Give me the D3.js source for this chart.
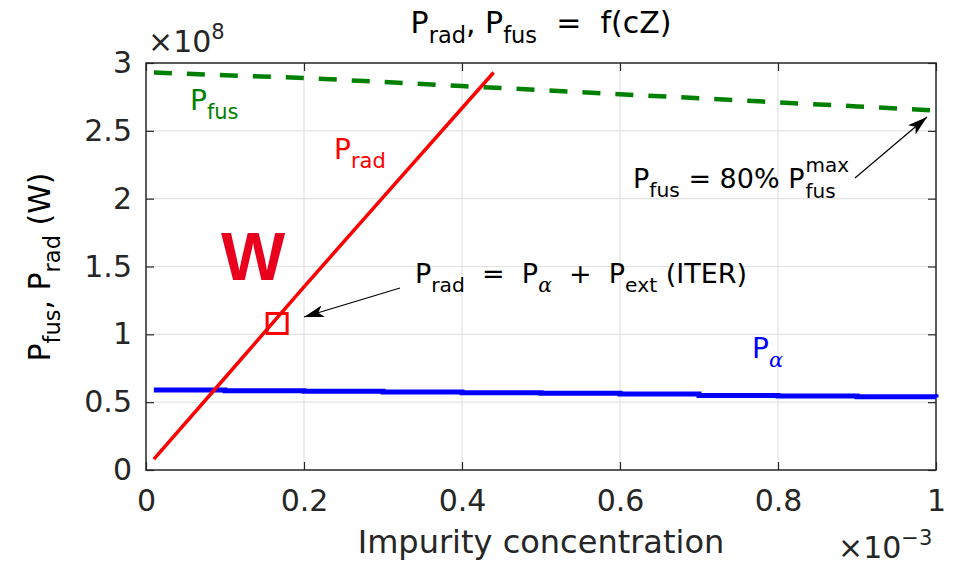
<!DOCTYPE html>
<html lang="en">
<head>
    <meta charset="UTF-8">
    <title>Prad, Pfus = f(cZ)</title>
    <script src="https://d3js.org/d3.v7.min.js"></script>
</head>
<style>
    html,body { margin: 0; padding: 0; background: #fff; }
    text { font-family: "DejaVu Sans", sans-serif; white-space: pre; }
</style>
<body>
    <div id="svg"></div>
</body>
<script>
    // impurity concentration (x1e-3)
    const concRad = [0.01, 0.1, 0.2, 0.3, 0.44];
    const pRad = [0.08, 0.68, 1.35, 2.01, 2.93];          // x1e8 W
    const concFus = [0.01, 0.1, 0.2, 0.3, 0.4, 0.5, 0.6, 0.7, 0.8, 0.9, 1.0];
    const pFus = [2.93, 2.91, 2.89, 2.86, 2.83, 2.80, 2.77, 2.74, 2.71, 2.68, 2.65];
    const pAlpha = [0.59, 0.585, 0.58, 0.575, 0.57, 0.565, 0.56, 0.55, 0.545, 0.54, 0.535];
    const xTicks = [0, 0.2, 0.4, 0.6, 0.8, 1];
    const yTicks = [0, 0.5, 1, 1.5, 2, 2.5, 3];
    const iterPoint = [0.166, 1.08];

    const width = 957, height = 565;
    const svg = d3.select('#svg').append('svg')
        .attr('width', width).attr('height', height);

    const x = d3.scaleLinear().domain([0, 1]).range([146, 936]);
    const y = d3.scaleLinear().domain([0, 3]).range([470, 63]);
    const sp = '\u00a0\u00a0';

    // grid
    svg.append('g').selectAll('line').data(xTicks.slice(1, -1)).enter().append('line')
        .attr('x1', d => x(d)).attr('x2', d => x(d))
        .attr('y1', y(0)).attr('y2', y(3))
        .attr('stroke', '#e3e3e3').attr('stroke-width', 1.2);
    svg.append('g').selectAll('line').data(yTicks.slice(1, -1)).enter().append('line')
        .attr('x1', x(0)).attr('x2', x(1))
        .attr('y1', d => y(d)).attr('y2', d => y(d))
        .attr('stroke', '#e3e3e3').attr('stroke-width', 1.2);

    // axes (ticks inward, MATLAB style)
    const axStyle = g => {
        g.select('.domain').remove();
        g.selectAll('line').attr('stroke', '#262626').attr('stroke-width', 1.2);
        g.selectAll('text').attr('fill', '#262626').attr('font-size', '30px')
            .style('font-family', '"DejaVu Sans", sans-serif');
    };
    svg.append('g').attr('transform', `translate(0,${y(0)})`)
        .call(d3.axisBottom(x).tickValues(xTicks).tickFormat(d3.format('')).tickSizeInner(-8).tickPadding(20))
        .call(axStyle);
    svg.append('g').attr('transform', `translate(0,${y(3)})`)
        .call(d3.axisTop(x).tickValues(xTicks).tickFormat('').tickSizeInner(-8))
        .call(axStyle);
    svg.append('g').attr('transform', `translate(${x(0)},0)`)
        .call(d3.axisLeft(y).tickValues(yTicks).tickFormat(d3.format('')).tickSizeInner(-8).tickPadding(14))
        .call(axStyle);
    svg.append('g').attr('transform', `translate(${x(1)},0)`)
        .call(d3.axisRight(y).tickValues(yTicks).tickFormat('').tickSizeInner(-8))
        .call(axStyle);
    svg.append('rect')
        .attr('x', x(0)).attr('y', y(3))
        .attr('width', x(1) - x(0)).attr('height', y(0) - y(3))
        .attr('fill', 'none').attr('stroke', '#262626').attr('stroke-width', 1.5);

    // lines
    const line = d3.line().x(d => x(d[0])).y(d => y(d[1]));
    svg.append('path').datum(d3.zip(concFus, pFus))
        .attr('d', line).attr('fill', 'none')
        .attr('stroke', '#008000').attr('stroke-width', 4.5)
        .attr('stroke-dasharray', '18,15');
    svg.append('path').datum(d3.zip(concFus, pAlpha))
        .attr('d', d3.line().curve(d3.curveStepAfter).x(d => x(d[0])).y(d => y(d[1])))
        .attr('fill', 'none')
        .attr('stroke', '#0000ff').attr('stroke-width', 5);
    svg.append('path').datum(d3.zip(concRad, pRad))
        .attr('d', line).attr('fill', 'none')
        .attr('stroke', '#ff0000').attr('stroke-width', 3.5);

    // ITER marker
    svg.append('rect')
        .attr('x', x(iterPoint[0]) - 10).attr('y', y(iterPoint[1]) - 10)
        .attr('width', 20).attr('height', 20)
        .attr('fill', 'none').attr('stroke', '#ff0000').attr('stroke-width', 3);

    // text helper with subscripts / superscripts
    function label(px, py, parts, opts) {
        const t = svg.append('text').attr('x', px).attr('y', py)
            .attr('font-size', opts.size + 'px').attr('fill', opts.color || '#000')
            .attr('text-anchor', opts.anchor || 'start');
        if (opts.rotate) t.attr('transform', `rotate(-90,${px},${py})`);
        parts.forEach(p => {
            const s = t.append('tspan').text(p.t);
            if (p.sub) s.attr('font-size', (opts.size * 0.75) + 'px').attr('dy', opts.size * 0.32);
            if (p.sup) s.attr('font-size', (opts.size * 0.7) + 'px').attr('dy', -opts.size * 0.45);
            if (p.back) s.attr('dy', p.back);
            if (p.italic) s.attr('font-style', 'italic').style('font-family', '"DejaVu Serif", serif');
        });
        return t;
    }

    // title
    label(541, 33, [{t: 'P'}, {t: 'rad', sub: true}, {t: ', P', back: -9.6}, {t: 'fus', sub: true},
        {t: sp + '=' + sp + 'f(cZ)', back: -9.6}], {size: 30, anchor: 'middle'});

    // axis labels
    label(541, 553, [{t: 'Impurity concentration'}], {size: 32, anchor: 'middle', color: '#262626'});
    label(50, 267, [{t: 'P'}, {t: 'fus', sub: true}, {t: ', P', back: -9.6}, {t: 'rad', sub: true}, {t: ' (W)', back: -9.6}],
        {size: 30, anchor: 'middle', color: '#000', rotate: true});
    label(148, 52, [{t: '×10'}, {t: '8', sup: true}], {size: 30, color: '#262626'});
    label(838, 558, [{t: '×10'}, {t: '−3', sup: true}], {size: 30, color: '#262626'});

    // series labels
    label(190, 110, [{t: 'P'}, {t: 'fus', sub: true}], {size: 28, color: '#008000'});
    label(334, 159, [{t: 'P'}, {t: 'rad', sub: true}], {size: 28, color: '#ff0000'});
    label(752, 358, [{t: 'P'}, {t: 'α', sub: true, italic: true}], {size: 28, color: '#0000ff'});
    svg.append('text').attr('x', 221).attr('y', 280)
        .attr('font-size', '68px').attr('font-weight', 'bold').attr('fill', '#e8001c')
        .style('font-family', '"Liberation Sans", Arial, sans-serif').text('W');

    // annotations
    label(415, 283, [{t: 'P'}, {t: 'rad', sub: true}, {t: sp + '=' + sp + 'P', back: -8.6}, {t: 'α', sub: true, italic: true},
        {t: sp + '+' + sp + 'P', back: -8.6}, {t: 'ext', sub: true}, {t: '\u00a0(ITER)', back: -8.6}], {size: 27});
    const fusNote = label(633, 188, [{t: 'P'}, {t: 'fus', sub: true},
        {t: '\u00a0=\u00a080%\u00a0P', back: -8.6}], {size: 27});
    const noteEnd = 633 + fusNote.node().getComputedTextLength() + 1;
    svg.append('text').attr('x', noteEnd).attr('y', 172).attr('font-size', '20px').text('max');
    svg.append('text').attr('x', noteEnd).attr('y', 198).attr('font-size', '20px').text('fus');

    // arrows
    svg.append('defs').append('marker')
        .attr('id', 'arr').attr('viewBox', '0 0 20 12')
        .attr('refX', 20).attr('refY', 6)
        .attr('markerWidth', 20).attr('markerHeight', 12)
        .attr('markerUnits', 'userSpaceOnUse').attr('orient', 'auto')
        .append('path').attr('d', 'M0,0 L20,6 L0,12 L5,6 Z').attr('fill', '#000');
    const arrows = [[400, 288, 304, 317], [855, 178, 927, 117]];
    svg.append('g').selectAll('line').data(arrows).enter().append('line')
        .attr('x1', d => d[0]).attr('y1', d => d[1])
        .attr('x2', d => d[2]).attr('y2', d => d[3])
        .attr('stroke', '#000').attr('stroke-width', 1.2)
        .attr('marker-end', 'url(#arr)');
</script>
</html>
